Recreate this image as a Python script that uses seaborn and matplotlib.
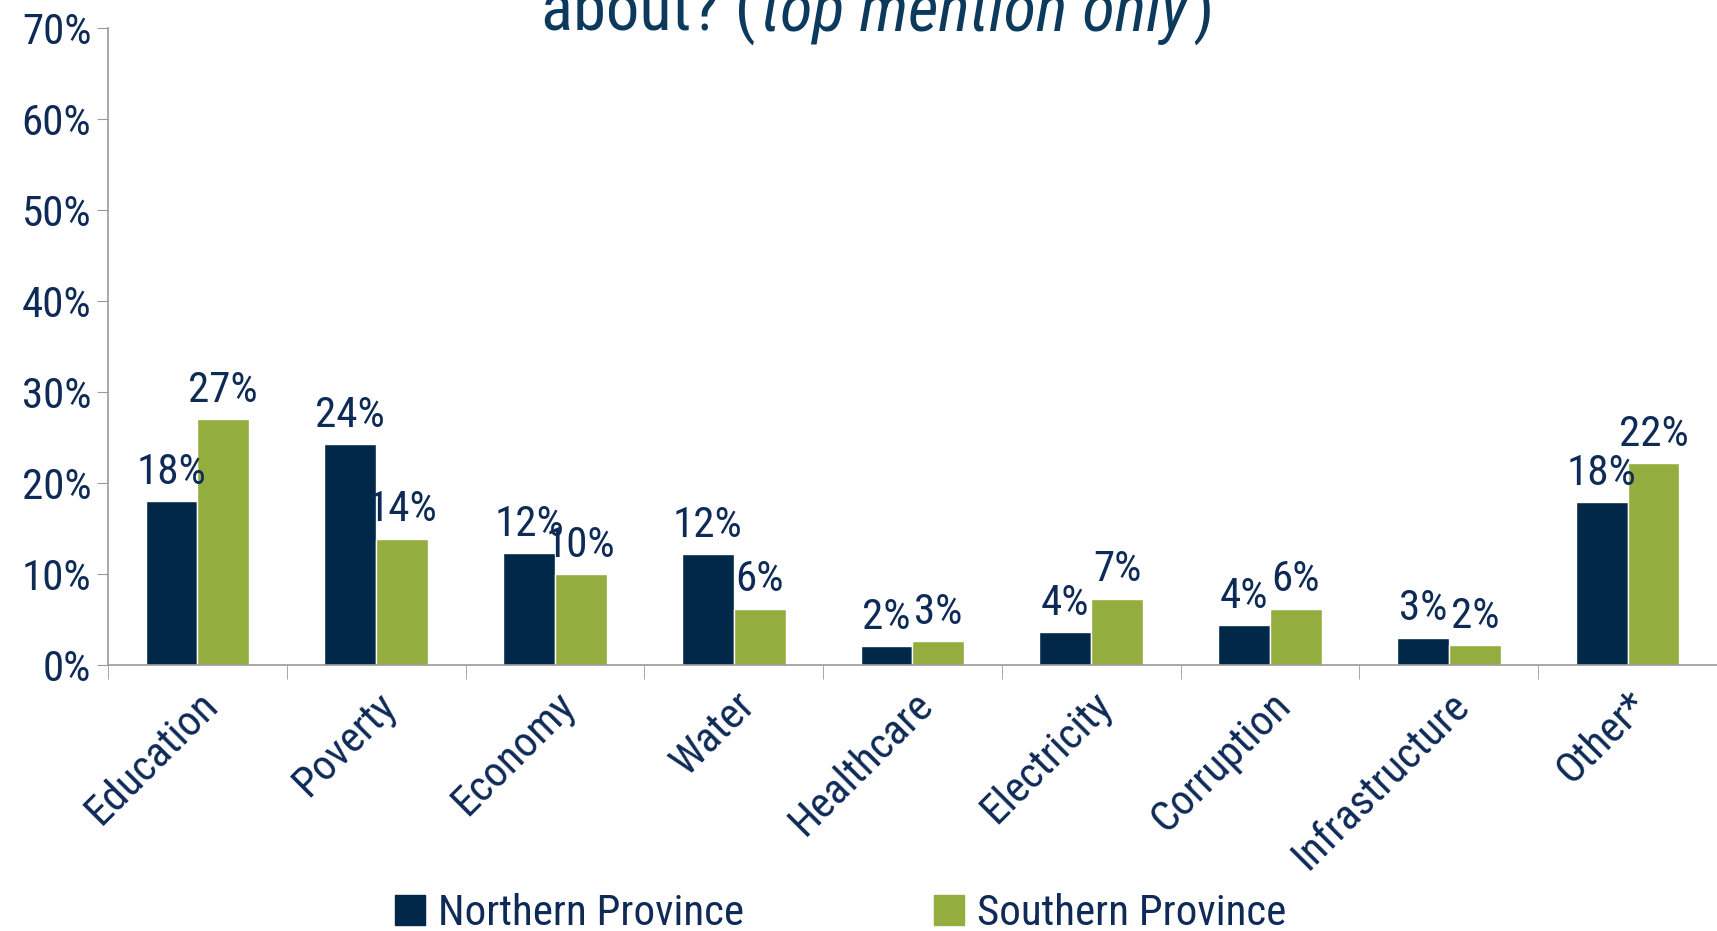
import pandas as pd
import matplotlib.pyplot as plt
import seaborn as sns
from matplotlib.ticker import FixedLocator, PercentFormatter

#%% data

categories = ['Education', 'Poverty', 'Economy', 'Water', 'Healthcare',
              'Electricity', 'Corruption', 'Infrastructure', 'Other*']
northern = [18.0, 24.3, 12.3, 12.2, 2.1, 3.6, 4.4, 3.0, 17.9]
southern = [27.0, 13.9, 10.0, 6.2, 2.6, 7.3, 6.2, 2.2, 22.2]
series = ['Northern Province', 'Southern Province']

df = pd.DataFrame({
    'issue': categories * 2,
    'share': northern + southern,
    'region': [series[0]] * len(categories) + [series[1]] * len(categories),
})

#%% style

navy = '#012749'
green = '#93AE3E'
text_col = '#0E2A57'
title_col = '#0B3A5C'
axis_col = '#9A9A9A'

sns.set_style('white')
plt.rcParams['font.family'] = ['Liberation Sans Narrow', 'Roboto Condensed', 'Lato', 'DejaVu Sans']

fig = plt.figure(figsize=(17.17, 9.31), dpi=100)
ax = fig.add_axes([0.0629, 0.2857, 0.9371, 0.6843])

sns.barplot(data=df, x='issue', y='share', hue='region', order=categories,
            hue_order=series, palette=[navy, green], width=0.58,
            saturation=1, ax=ax, legend=False)

for cont in ax.containers:
    ax.bar_label(cont, fmt='%.0f%%', padding=6, fontsize=31, color=text_col)

ax.set_ylim(0, 70)
ax.set_xlim(-0.5, len(categories) - 0.5)
ax.set_yticks(range(0, 71, 10))
ax.yaxis.set_major_formatter(PercentFormatter(decimals=0))
ax.tick_params(axis='y', length=8, color=axis_col, labelsize=31,
               labelcolor=text_col, left=True, pad=4)
ax.tick_params(axis='x', which='major', length=0, labelsize=31,
               labelcolor=text_col, pad=14)
ax.xaxis.set_minor_locator(FixedLocator([i - 0.5 for i in range(len(categories) + 1)]))
ax.tick_params(axis='x', which='minor', length=10, color=axis_col, bottom=True)
plt.setp(ax.get_xticklabels(), rotation=45, ha='right', rotation_mode='anchor')

ax.set_xlabel('')
ax.set_ylabel('')
sns.despine(ax=ax)
for s in ['left', 'bottom']:
    ax.spines[s].set_color(axis_col)
    ax.spines[s].set_linewidth(1.2)

# title (only its last line is visible in the slide), pieces laid side by side
renderer = fig.canvas.get_renderer()
pieces = [('about? (', 'normal'), ('top mention only', 'italic'), (')', 'normal')]
texts = [fig.text(0, 0.967, p, fontsize=48, color=title_col, style=st,
                  va='baseline', ha='left') for p, st in pieces]
widths = [t.get_window_extent(renderer).width for t in texts]
x0 = 0.511 * fig.bbox.width - (sum(widths) + 10) / 2
for t, w in zip(texts, widths):
    t.set_x(x0 / fig.bbox.width)
    x0 += w + 5

# legend
handles = [plt.Rectangle((0, 0), 1, 1, color=c) for c in [navy, green]]
fig.legend(handles, series, loc='center', bbox_to_anchor=(0.4895, 0.019), ncol=2,
           frameon=False, fontsize=31, labelcolor=text_col, handlelength=0.7,
           handleheight=0.7, handletextpad=0.3, columnspacing=4.4)

fig.savefig('out.png', dpi=100)
